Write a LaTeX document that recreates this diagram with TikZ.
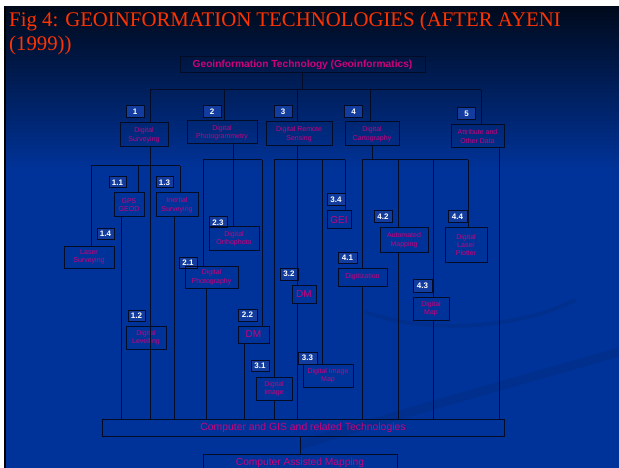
\documentclass[tikz,border=0pt]{standalone}
\usepackage{fontspec}
\setmainfont{Liberation Serif}
\setsansfont{Liberation Sans}
\usepackage{xcolor}
\usepackage{tikz}
\definecolor{slide}{HTML}{003399}
\definecolor{slidemid}{HTML}{00206A}
\definecolor{slidetop}{HTML}{000A1C}
\definecolor{swoosh}{HTML}{002F8E}
\definecolor{boxline}{HTML}{030C24}
\definecolor{boxtext}{HTML}{D0007A}
\definecolor{numfill}{HTML}{123C9E}
\definecolor{titlered}{HTML}{FF3300}

\begin{document}
\begin{tikzpicture}[x=1pt,y=-1pt,
  item/.style={draw=boxline, line width=1pt, text=boxtext, align=center,
    inner sep=0pt, font=\sffamily\fontsize{7}{8.4}\selectfont},
  num/.style={draw=boxline, line width=1pt, fill=numfill, text=white,
    inner sep=0pt, minimum width=18pt, minimum height=12pt,
    font=\sffamily\bfseries\fontsize{8}{8}\selectfont},
  link/.style={draw=boxline, line width=1pt}]
\useasboundingbox (0,0) rectangle (619,468);

% Slide background
\fill[white] (0,0) rectangle (619,468);
\fill[slide] (4,7) rectangle (619,468);
\shade[top color=slidetop, middle color=slidemid, bottom color=slide] (4,7) rectangle (619,170);
\draw[swoosh, line width=9pt] (300,445) .. controls (430,405) and (540,375) .. (619,352);
\draw[swoosh, line width=4pt] (365,312) .. controls (430,335) and (520,328) .. (575,300);
\draw[black, line width=2pt] (5,7) -- (5,468);

% Title
\node[anchor=base west, inner sep=0pt, text=titlered, font=\fontsize{20.8}{24}\selectfont] (title) at (9,27) {Fig 4: GEOINFORMATION TECHNOLOGIES (AFTER AYENI};
\node[anchor=base west, inner sep=0pt, text=titlered, font=\fontsize{20.8}{24}\selectfont] (title2) at (9,50.5) {(1999))};

% Root and main branches
\node[item, minimum width=245pt, minimum height=16pt, font=\sffamily\bfseries\fontsize{10.2}{10}\selectfont] (top) at (302.5,65) {Geoinformation Technology (Geoinformatics)};
\node[item, minimum width=48pt, minimum height=24pt] (b1) at (144,135) {Digital\\Surveying};
\node[item, minimum width=70pt, minimum height=23pt] (b2) at (222,132.5) {Digital\\Photogrammetry};
\node[item, minimum width=66pt, minimum height=24pt] (b3) at (299,134) {Digital Remote\\Sensing};
\node[item, minimum width=54pt, minimum height=24pt] (b4) at (372,134) {Digital\\Cartography};
\node[item, minimum width=53pt, minimum height=23pt] (b5) at (477.5,136.5) {Attribute and\\Other Data};
\node[num] (n1) at (135,112) {1};
\node[num] (n2) at (212,112) {2};
\node[num] (n3) at (283,112) {3};
\node[num] (n4) at (353.5,112) {4};
\node[num] (n5) at (466.5,114) {5};

% Digital surveying
\node[num, minimum width=17pt, minimum height=11pt] (n11) at (117.5,182.5) {1.1};
\node[item, minimum width=30pt, minimum height=24pt] (gps) at (129,205) {GPS\\GEOD};
\node[num, minimum width=17pt, minimum height=11pt] (n13) at (164.5,182.5) {1.3};
\node[item, minimum width=42pt, minimum height=24pt] (ins) at (177,205) {Inertial\\Surveying};
\node[num, minimum width=17pt, minimum height=11pt] (n14) at (105.5,234) {1.4};
\node[item, minimum width=50pt, minimum height=22pt] (las) at (89,257) {Laser\\Surveying};
\node[num, minimum width=17pt, minimum height=11pt] (n12) at (136.5,316) {1.2};
\node[item, minimum width=40pt, minimum height=23pt] (lev) at (146,337.5) {Digital\\Levelling};

% Digital photogrammetry
\node[num, minimum width=18pt, minimum height=11pt] (n23) at (218,222.5) {2.3};
\node[item, minimum width=50pt, minimum height=23pt] (ort) at (234,238.5) {Digital\\Orthophoto};
\node[num, minimum width=18pt, minimum height=11pt] (n21) at (188,262.5) {2.1};
\node[item, minimum width=53pt, minimum height=22pt] (pho) at (211.5,277) {Digital\\Photography};
\node[num, minimum width=19pt, minimum height=12pt] (n22) at (247.5,315) {2.2};
\node[item, minimum width=31pt, minimum height=17pt, font=\sffamily\fontsize{10}{10}\selectfont] (dm2) at (253.5,334.5) {DM};

% Digital remote sensing
\node[num, minimum width=18pt, minimum height=12pt] (n34) at (336,200) {3.4};
\node[item, minimum width=24pt, minimum height=18pt, font=\sffamily\fontsize{10}{10}\selectfont] (gei) at (339,220) {GEI};
\node[num, minimum width=18pt, minimum height=12pt] (n32) at (289,274) {3.2};
\node[item, minimum width=24pt, minimum height=18pt, font=\sffamily\fontsize{10}{10}\selectfont] (dm3) at (304,294) {DM};
\node[num, minimum width=18pt, minimum height=11pt] (n31) at (260,365.5) {3.1};
\node[item, minimum width=36pt, minimum height=23pt] (img) at (274,388.5) {Digital\\Image};
\node[num, minimum width=19pt, minimum height=12pt] (n33) at (307.5,358) {3.3};
\node[item, minimum width=50pt, minimum height=23pt] (imap) at (328,375.5) {Digital Image\\Map};

% Digital cartography
\node[num, minimum width=19pt, minimum height=11pt] (n41) at (347.5,257.5) {4.1};
\node[item, minimum width=49pt, minimum height=18pt] (dig) at (362.5,277) {Digitization};
\node[num, minimum width=18pt, minimum height=12pt] (n42) at (383,217) {4.2};
\node[item, minimum width=48pt, minimum height=24pt] (aut) at (404,240) {Automated\\Mapping};
\node[num, minimum width=19pt, minimum height=13pt] (n43) at (422.5,285.5) {4.3};
\node[item, minimum width=36pt, minimum height=23pt] (dmap) at (431,308.5) {Digital\\Map};
\node[num, minimum width=19pt, minimum height=12pt] (n44) at (457.5,217) {4.4};
\node[item, minimum width=42pt, minimum height=34pt] (lsp) at (466,245) {Digital\\Laser\\Plotter};

% Output boxes
\node[item, minimum width=402pt, minimum height=17pt, font=\sffamily\fontsize{10.4}{10}\selectfont] (gis) at (303,427.5) {Computer and GIS and related Technologies};
\node[item, minimum width=194pt, minimum height=18pt, font=\sffamily\fontsize{10.2}{10}\selectfont] (cam) at (300,463) {Computer Assisted Mapping};

% Main bus
\coordinate (j1) at (150,90);
\coordinate (j2) at (224,90);
\coordinate (j3) at (297,90);
\coordinate (j4) at (370,90);
\coordinate (j5) at (481,90);
\draw[link] (top.south) -- (top.south |- j1);
\draw[link] (j1) -- (j5);
\draw[link] (j1) -- (j1 |- b1.north);
\draw[link] (j2) -- (j2 |- b2.north);
\draw[link] (j3) -- (j3 |- b3.north);
\draw[link] (j4) -- (j4 |- b4.north);
\draw[link] (j5) -- (j5 |- b5.north);

% Surveying links
\coordinate (s1a) at (91,165.7);
\coordinate (s1c) at (138.7,165.7);
\coordinate (s1b) at (180,165.7);
\draw[link] (j1 |- b1.south) -- (j1 |- gis.north);
\draw[link] (s1a) -- (s1b);
\draw[link] (s1a) -- (s1a |- las.north);
\draw[link] (s1c) -- (s1c |- gps.north);
\draw[link] (s1b) -- (s1b |- ins.north);
\draw[link] ([xshift=-8pt]gps.south) -- ([xshift=-8pt]gps.south |- gis.north);
\draw[link] ([xshift=-3pt]ins.south) -- ([xshift=-3pt]ins.south |- gis.north);

% Photogrammetry links
\coordinate (s2a) at (203,160);
\coordinate (s2b) at (262,160);
\draw[link] ([xshift=-1pt]ort.north |- b2.south) -- ([xshift=-1pt]ort.north);
\draw[link] (s2a) -- (s2b);
\draw[link] (s2a) -- (s2a |- pho.north);
\draw[link] (s2b) -- (s2b |- dm2.north);
\draw[link] ([xshift=-5.5pt]pho.south) -- ([xshift=-5.5pt]pho.south |- gis.north);
\draw[link] ([xshift=-9.5pt]dm2.south) -- ([xshift=-9.5pt]dm2.south |- gis.north);

% Remote sensing links
\coordinate (s3a) at (274,160);
\coordinate (s3c) at (322,160);
\coordinate (s3b) at (345,160);
\draw[link] (j3 |- b3.south) -- (j3 |- dm3.north);
\draw[link] (j3 |- dm3.south) -- (j3 |- gis.north);
\draw[link] (s3a) -- (s3b);
\draw[link] (s3a) -- (img.north);
\draw[link] (img.south) -- (img.south |- gis.north);
\draw[link] (s3c) -- (s3c |- imap.north);
\draw[link] (s3b) -- (s3b |- gei.north);

% Cartography links
\coordinate (s4a) at (362,160);
\coordinate (s4c) at (398,160);
\coordinate (s4d) at (433,160);
\coordinate (s4b) at (468,160);
\draw[link] (b4.south) -- (b4.south |- s4a);
\draw[link] (s4a) -- (s4b);
\draw[link] (s4a) -- (s4a |- dig.north);
\draw[link] (s4a |- dig.south) -- (s4a |- gis.north);
\draw[link] (s4c) -- (s4c |- aut.north);
\draw[link] (s4c |- aut.south) -- (s4c |- gis.north);
\draw[link] (s4d) -- (s4d |- dmap.north);
\draw[link] (s4d |- dmap.south) -- (s4d |- gis.north);
\draw[link] (s4b) -- (s4b |- lsp.north);

% Attribute data and output
\draw[link] ([xshift=21.5pt]b5.south) -- ([xshift=21.5pt]b5.south |- gis.north);
\draw[link] (cam.north |- gis.south) -- (cam.north);
\end{tikzpicture}
\end{document}
